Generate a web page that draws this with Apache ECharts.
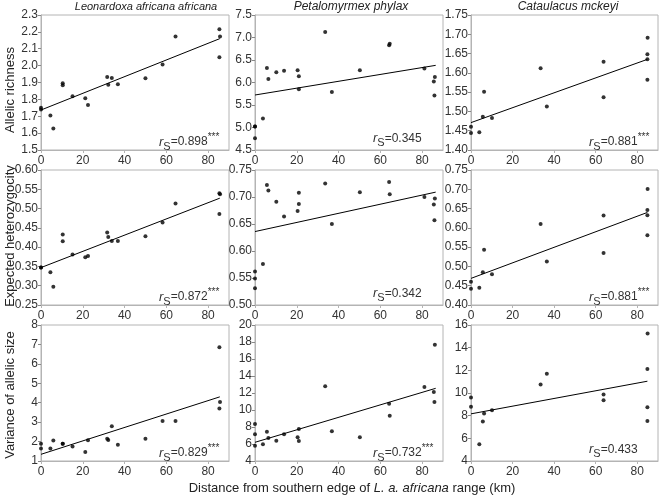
<!DOCTYPE html>
<html><head><meta charset="utf-8">
<script src="https://cdn.jsdelivr.net/npm/echarts@6/dist/echarts.min.js"></script>
<style>html,body{margin:0;padding:0;background:#fff}#c{width:661px;height:496px}</style>
</head><body><div id="c"></div>
<script>
// ---- data ----
const titles = ['Leonardoxa africana africana', 'Petalomyrmex phylax', 'Cataulacus mckeyi'];
const yNames = ['Allelic richness', 'Expected heterozygocity', 'Variance of allelic size'];
const xLabelPre = 'Distance from southern edge of ';
const xLabelItalic = 'L. a. africana';
const xLabelPost = ' range (km)';

const leoX = [0, 0, 4.5, 5.9, 10.4, 10.4, 15.1, 21.2, 22.5, 31.7, 32.2, 33.9, 36.8, 50.0, 58.2, 64.4, 85.4, 85.7, 85.4];
const leoAR = [1.75, 1.74, 1.705, 1.628, 1.895, 1.883, 1.818, 1.806, 1.767, 1.932, 1.887, 1.927, 1.889, 1.925, 2.006, 2.172, 2.215, 2.172, 2.049];
const leoHe = [0.347, 0.347, 0.335, 0.297, 0.433, 0.415, 0.381, 0.374, 0.377, 0.438, 0.426, 0.416, 0.416, 0.428, 0.464, 0.513, 0.540, 0.537, 0.486];
const leoVar = [1.89, 1.64, 1.64, 2.05, 1.89, 1.89, 1.74, 1.46, 2.07, 2.15, 2.08, 2.79, 1.83, 2.15, 3.06, 3.06, 6.85, 4.04, 3.70];

const petX = [0, 0, 0, 3.8, 5.7, 6.4, 10.2, 13.9, 20.4, 21.0, 21.0, 33.6, 36.8, 50.2, 64.2, 64.5, 81.1, 86.1, 85.6, 85.9];
const petAR = [5.02, 5.02, 4.76, 5.20, 6.32, 6.08, 6.23, 6.26, 6.27, 6.14, 5.85, 7.12, 5.79, 6.27, 6.83, 6.86, 6.31, 6.12, 6.02, 5.71];
const petHe = [0.562, 0.549, 0.531, 0.576, 0.722, 0.712, 0.691, 0.664, 0.674, 0.708, 0.687, 0.725, 0.650, 0.709, 0.728, 0.705, 0.700, 0.697, 0.686, 0.657];
const petVar = [8.35, 7.14, 5.80, 5.96, 7.45, 6.71, 6.39, 7.14, 6.78, 7.76, 6.35, 12.78, 7.49, 6.78, 10.75, 9.33, 12.71, 17.69, 12.12, 10.94];

const catX = [0, 0, 4.0, 5.7, 6.3, 10.1, 33.5, 36.5, 63.8, 63.8, 85.0, 84.9, 84.9, 84.9];
const catAR = [1.460, 1.444, 1.446, 1.486, 1.551, 1.483, 1.612, 1.513, 1.629, 1.537, 1.691, 1.648, 1.635, 1.582];
const catHe = [0.460, 0.442, 0.445, 0.485, 0.543, 0.480, 0.610, 0.513, 0.632, 0.535, 0.701, 0.646, 0.633, 0.581];
const catVar = [9.60, 8.78, 5.48, 7.48, 8.19, 8.48, 10.75, 11.70, 9.87, 9.37, 15.26, 12.11, 8.75, 7.54];

// regression lines: [value at x=0, value at line end]
const leoFit = [[1.737, 2.160], [0.347, 0.527], [1.344, 4.302]];
const petFit = [[5.722, 6.381], [0.636, 0.709], [6.20, 12.55]];
const catFit = [[1.471, 1.635], [0.469, 0.640], [8.16, 11.04]];
const fitEnd = [85.6, 86.5, 84.9];

// Spearman annotations
const rsValues = ['0.898', '0.345', '0.881', '0.872', '0.342', '0.881', '0.829', '0.732', '0.433'];
const rsStars = ['***', '', '***', '***', '', '***', '***', '***', ''];

// axis ticks
const xTicks = [0, 20, 40, 60, 80];
const yMin = [[1.5, 4.5, 1.40], [0.25, 0.50, 0.40], [1, 4, 4]];
const yMax = [[2.3, 7.5, 1.75], [0.60, 0.75, 0.75], [8, 20, 16]];
const yStep = [[0.1, 0.5, 0.05], [0.05, 0.05, 0.05], [1, 2, 2]];
const yDec = [[1, 1, 2], [2, 2, 2], [0, 0, 0]];

// ---- layout ----
const colLeft = [41, 255, 471];
const colWidth = [188, 188, 187];
const rowTop = [15, 170, 325];
const rowHeight = [135, 135, 136];
const FONT = '"Liberation Sans", Arial, sans-serif';
const TXT = '#333';
const BORDER = '#b4b4b4';

const xSets = [leoX, petX, catX];
const ySets = [[leoAR, petAR, catAR], [leoHe, petHe, catHe], [leoVar, petVar, catVar]];
const fits = [leoFit, petFit, catFit];

const grids = [], xAxes = [], yAxes = [], series = [], graphics = [];
for (let r = 0; r < 3; r++) {
  for (let c = 0; c < 3; c++) {
    const i = r * 3 + c;
    grids.push({left: colLeft[c], top: rowTop[r], width: colWidth[c], height: rowHeight[r],
      show: true, borderColor: BORDER, borderWidth: 1, backgroundColor: 'transparent', containLabel: false});
    xAxes.push({type: 'value', gridIndex: i, min: 0, max: 90, interval: 20,
      axisLine: {show: true, onZero: false, lineStyle: {color: BORDER}},
      axisTick: {show: true, length: 3, lineStyle: {color: BORDER}},
      splitLine: {show: false},
      axisLabel: {show: true, color: TXT, fontFamily: FONT, fontSize: 12, margin: 5, showMaxLabel: false,
        formatter: v => xTicks.indexOf(Math.round(v)) >= 0 && Math.abs(v - Math.round(v)) < 1e-6 ? String(Math.round(v)) : ''}});
    const d = yDec[r][c];
    yAxes.push({type: 'value', gridIndex: i, min: yMin[r][c], max: yMax[r][c], interval: yStep[r][c],
      axisLine: {show: true, onZero: false, lineStyle: {color: BORDER}},
      axisTick: {show: true, length: 3, lineStyle: {color: '#888'}},
      splitLine: {show: false},
      axisLabel: {color: TXT, fontFamily: FONT, fontSize: 12, margin: 3, formatter: v => v.toFixed(d)}});
    const xs = xSets[c], ys = ySets[r][c];
    series.push({type: 'scatter', xAxisIndex: i, yAxisIndex: i, symbolSize: 4,
      itemStyle: {color: '#000'}, silent: true, z: 3,
      data: xs.map((x, k) => [x, ys[k]])});
    const f = fits[c][r];
    series.push({type: 'line', xAxisIndex: i, yAxisIndex: i, symbol: 'none', silent: true,
      lineStyle: {color: '#000', width: 1}, z: 2,
      data: [[0, f[0]], [fitEnd[c], f[1]]]});
    // annotation
    graphics.push({type: 'text', left: colLeft[c] + 118, top: rowTop[r] + rowHeight[r] - 18, silent: true, z: 10,
      style: {text: '{r|r}{s|S}{v|=' + rsValues[i] + '}' + (rsStars[i] ? '{p|' + rsStars[i] + '}' : ''),
        rich: {
          r: {fontFamily: FONT, fontStyle: 'italic', fontSize: 13, fill: TXT, lineHeight: 14, verticalAlign: 'middle'},
          s: {fontFamily: FONT, fontSize: 11, fill: TXT, lineHeight: 11, verticalAlign: 'bottom'},
          v: {fontFamily: FONT, fontSize: 12, fill: TXT, lineHeight: 20, verticalAlign: 'middle'},
          p: {fontFamily: FONT, fontSize: 10, fill: TXT, lineHeight: 16, verticalAlign: 'top'}
        }}});
  }
}
// titles
const titleCx = [146, 351, 568];
const titleSize = [11, 12, 12];
for (let c = 0; c < 3; c++) {
  graphics.push({type: 'text', x: titleCx[c], y: 7, silent: true,
    style: {text: titles[c], fontFamily: FONT, fontStyle: 'italic', fontSize: titleSize[c], fill: '#222',
      textAlign: 'center', textVerticalAlign: 'middle'}});
}
// y-axis names
const yNameCy = [90, 236, 395];
for (let r = 0; r < 3; r++) {
  graphics.push({type: 'text', x: 10, y: yNameCy[r], rotation: Math.PI / 2, silent: true,
    style: {text: yNames[r], fontFamily: FONT, fontSize: 13, fill: '#222',
      textAlign: 'center', textVerticalAlign: 'middle'}});
}
// bottom x-axis name
graphics.push({type: 'text', x: 352, y: 488, silent: true,
  style: {text: '{a|' + xLabelPre + '}{b|' + xLabelItalic + '}{a|' + xLabelPost + '}',
    textAlign: 'center', textVerticalAlign: 'middle',
    rich: {a: {fontFamily: FONT, fontSize: 13, fill: '#222'},
           b: {fontFamily: FONT, fontSize: 13, fontStyle: 'italic', fill: '#222'}}}});

const chart = echarts.init(document.getElementById('c'));
chart.setOption({animation: false, backgroundColor: '#fff', grid: grids, xAxis: xAxes, yAxis: yAxes, series: series, graphic: graphics});
</script>
</body></html>
